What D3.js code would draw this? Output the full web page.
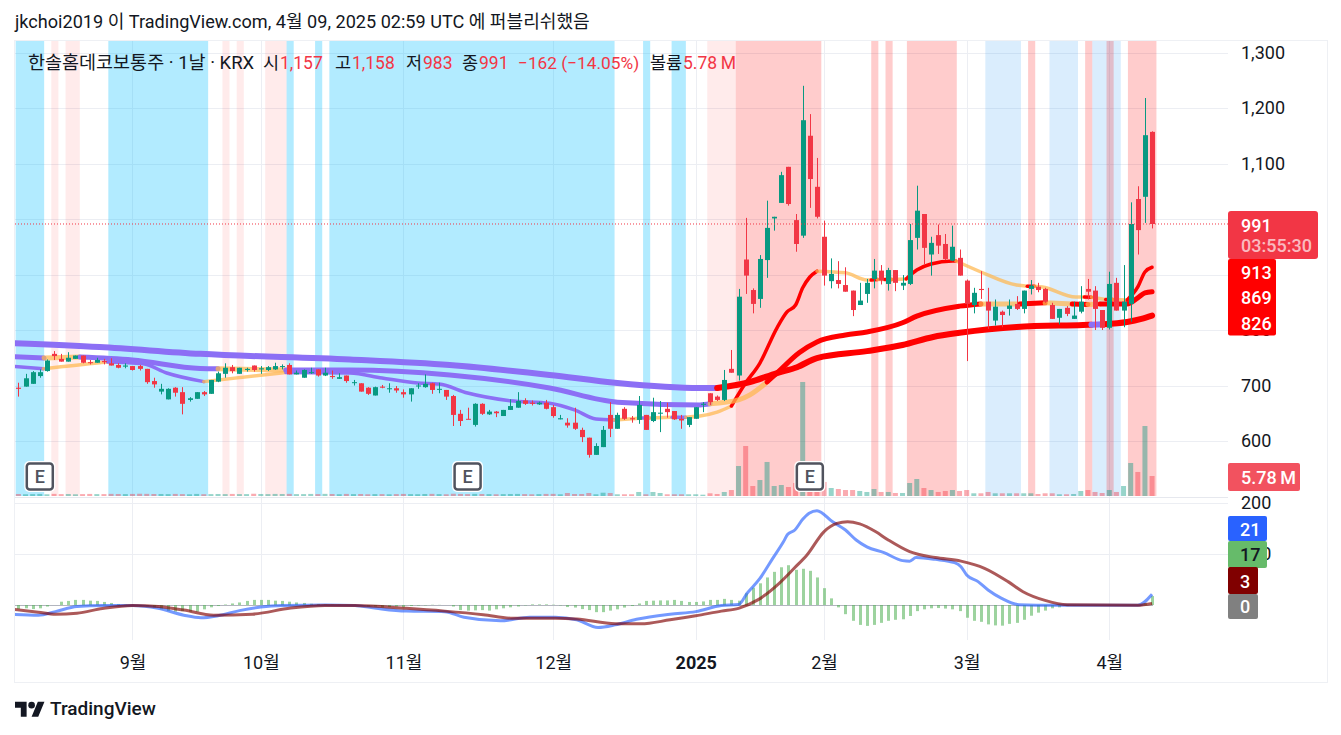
<!DOCTYPE html>
<html lang="ko">
<head>
<meta charset="utf-8">
<script src="https://cdn.jsdelivr.net/npm/d3@7"></script>
<style>
html,body{margin:0;padding:0;background:#fff;overflow:hidden}
svg{display:block}
text{font-family:Roboto,"Noto Sans CJK KR",sans-serif}
</style>
</head>
<body>
<svg id="chart" width="1341" height="735"></svg>
<script>
// ---------- DATA ----------
const opens=[696,698,703,717,726,757,748,743,748,754,
742,741,744,740,737,734,735,735,730,708,
689,675,696,688,674,676,688,685,707,721,
733,721,728,736,729,728,729,734,737,720,
714,723,729,718,717,712,718,705,704,696,
682,698,694,695,688,684,699,697,704,693,
692,681,649,640,629,667,648,653,645,656,
660,673,669,666,669,661,639,633,633,620,
606,575,589,647,622,658,641,638,647,636,
650,658,654,640,629,640,666,686,680,674,
730,718,927,872,856,926,1001,1029,1094,998,
970,1150,1058,968,888,890,881,871,845,865,
892,907,883,908,880,883,966,1009,936,971,
955,925,930,889,845,874,851,817,833,838,
847,838,874,878,874,845,822,840,820,833,
874,871,836,804,885,835,847,1036,1040,1157];
const closes=[694,713,724,724,745,753,743,750,754,741,
741,746,742,736,732,736,728,730,706,702,
694,694,687,667,677,688,684,710,722,732,
726,732,730,728,731,733,735,735,720,723,
728,724,718,723,716,715,708,706,689,685,
697,696,695,691,684,695,700,703,692,694,
680,647,636,639,667,649,653,650,656,663,
672,667,667,669,658,645,641,628,622,607,
575,591,620,622,647,640,639,665,620,652,
651,652,639,637,643,661,667,670,674,710,
723,860,898,847,928,984,1004,1079,1027,955,
1178,1072,1004,898,901,883,869,836,853,885,
907,889,908,885,885,962,1015,948,957,952,
928,950,898,847,867,872,835,842,827,844,
838,871,880,872,851,820,838,829,826,851,
869,838,804,883,835,851,991,980,1151,991];
const highs=[705,721,726,729,747,762,757,760,754,754,
746,750,748,749,740,740,735,737,730,714,
703,695,697,697,679,688,690,710,725,740,
737,732,732,736,735,735,741,738,740,727,
729,732,729,732,727,722,718,710,704,697,
698,701,704,699,693,695,704,720,705,705,
692,683,656,660,668,668,656,654,656,675,
688,677,673,671,674,665,647,641,660,624,
606,596,627,670,651,661,645,681,647,678,
672,669,654,647,643,661,670,686,682,728,
764,874,1002,875,935,1033,1004,1085,1094,1009,
1240,1189,1110,997,929,924,913,871,885,892,
928,917,912,908,899,991,1060,1009,968,990,
973,988,945,891,876,906,876,855,835,855,
861,871,890,885,876,849,838,843,851,879,
892,879,836,905,894,917,1030,1059,1218,1158];
const lows=[680,698,703,714,725,746,743,743,748,740,
738,741,738,736,731,731,727,727,703,696,
684,675,680,648,671,676,681,685,706,714,
722,721,725,725,721,726,728,729,720,720,
714,721,716,717,712,712,705,700,689,683,
682,695,687,687,678,671,694,696,685,686,
674,627,627,639,626,647,647,643,645,656,
660,665,664,665,657,642,639,624,620,598,
570,575,589,607,622,638,633,631,620,634,
616,642,638,622,625,640,652,665,672,672,
723,709,865,830,840,894,979,1029,1024,941,
966,1020,1001,880,875,875,869,825,845,849,
875,882,871,870,872,881,945,918,898,937,
926,924,898,744,830,856,802,808,805,826,
836,830,864,868,849,820,810,825,820,830,
855,800,800,801,835,805,815,936,993,983];
const volumes=[.58,.5,.55,.6,.5,.62,.55,.58,.5,.55,
.6,.55,.55,.62,.58,.55,.6,.65,.62,.58,
.58,.55,.6,.55,.5,.6,.52,.55,.58,.55,
.6,.55,.55,.65,.58,.55,.6,.58,.62,.55,
.55,.6,.55,.62,.58,.52,.6,.55,.58,.5,
.55,.55,.5,.55,.6,.55,.52,.58,.62,.55,
.5,.65,.6,.55,.62,.58,.55,.5,.55,.58,
.6,.55,.5,.55,.6,.62,
.5,.87,.58,.58,.87,.5,.95,.87,.5,.5,.5,1.16,.5,1.16,.87,.5,.5,.5,.5,.5,
.38,.78,.58,1.16,1.73,8.67,14.45,2.89,4.62,9.83,2.89,3.18,2.6,3.76,32.95,4.34,1.73,4.05,2.31,2.02,1.73,1.73,1.45,1.16,2.02,1.16,1.16,.87,.87,3.76,4.91,2.31,1.73,1.16,1.45,1.73,
1.45,1.73,.78,.78,1.16,.78,.78,.78,.78,.78,.78,.58,.78,.78,.5,.5,.58,1.45,1.73,1.16,.87,1.73,1.16,2.89,9.54,6.94,20.23,5.78];
const macdHist=[-8,-6.5,-8,-6.5,-3,0,6.5,8,10,10,
8.5,8,6,4,2,.7,0,-1,-2.5,-5,
-8.5,-12,-13,-12,-13,-13,-8.5,-4.5,-2,1,
3,5,8,10,10,10,8.5,8,6.5,5,
4,2.5,2,.7,.7,.5,.3,0,-.7,-3,
-3,-5,-4,-3,-4.5,-2,-1,-.7,.5,.3,
0,-3,-10,-11,-10.5,-10,-11,-8.5,-6.5,-4.5,
-3,-.7,1.3,1.3,1.3,.7,-.7,-4,-5,-8,
-10,-14,-14,-11,-8.5,-5,-2,3,8,8.5,
9,9,10,8,6,6,7,10,10,12,
10,8.5,23,34,42.5,54,65,74,78,69,
71,67,54,33,13,-4.6,-18,-31,-39,-41,
-39,-35,-31,-29,-28,-21.5,-12,-8.5,-6.5,-6,
-7,-8.5,-12,-25,-31,-33,-38,-40,-40.5,-37,
-35,-29,-21,-15,-11,-6.5,-4.6,-2,-.7,-.5,
-.4,-.3,-.3,-.2,-.2,-.1,0,0,3,17.6];
const macdIdx=[-1,2.8,5.2,8.2,11.8,16,19.6,23.2,25.6,28,31,34,37,43,47.2,50.2,54.4,59.8,62.5,67.6,71.7,75.3,78.3,81.3,83.7,86.7,91.4,95,98.6,101,102.2,104,105.8,107.3,107.9,108.9,110,110.9,112,114.2,116,117.5,119,121.4,124,125,125.9,128.6,131.3,132.2,133,134.6,136,137.9,140.3,145.3,157,159];
const macdLine=[-18,-20,-13,-3,-1,-1,-6.5,-20,-25,-21,-11,-4,-1,0,-1,-6.5,-12,-13,-24,-31,-24,-24,-29,-44,-39,-28,-18,-13,-1,1,23,52,91.5,124,138.6,147,168,180,185,163,147,127.5,114,102.6,87,86,93,89.5,83,75,59,45.8,29.4,13,.7,-.5,-.5,21];
const signalIdx=[-1,2.8,5.2,8.2,11.8,16,19.6,23.2,27.4,32.8,38.2,43,47.2,54.4,59.8,65.2,69.4,75.3,78.3,83.7,87.3,91.4,95,98.6,101,103.7,106.7,108.8,110.6,113,114.8,116.3,118,120.2,122,125,128.6,132.2,135.5,138.8,140.9,144.1,147.1,157,159];
const signalLine=[-8,-14,-18,-16,-7,-1,-3,-10,-20,-18,-6,-1,-1,-6.5,-12,-19,-26,-26,-27.5,-36.6,-37,-29,-21,-12,-6.5,10,42.5,72,98,144,160,163.4,159,144,127.5,104.6,93,86,72,45.8,26,8.5,.7,-.5,3];
// moving averages: [state, [[bar index, price], ...]]
const slowMA=[
 ["bear",[[-1,776.6],[11.4,769.4],[25.5,757],[46.5,747],[60.5,737],[74.5,719],[84,704.5],[95.6,695.5],[98,695.5]]],
 ["bull",[[98,695.5],[102.6,706.3],[106.4,722.5],[109.2,733],[112,749.5],[119,762],[124,773],[128.3,787.5],[132,795],[140,805.5],[149.3,809],[150.5,809.5]]],
 ["bear",[[150.5,809.5],[152.2,810.5]]],
 ["bull",[[152.2,810.5],[155.5,814.5],[157.5,820],[159,826]]]
];
const midMA=[
 ["bear",[[-1,752],[3.6,749.5]]],
 ["neutral",[[3.6,749.5],[8.6,751.4]]],
 ["bear",[[8.6,751.4],[16,746],[25.5,730.6],[28,730]]],
 ["neutral",[[28,730],[37.5,728]]],
 ["bear",[[37.5,728],[46.5,728],[60.5,719],[74.5,695.5],[84,670],[95.6,665],[97,667]]],
 ["neutral",[[97,667],[101,674],[102.6,683],[105,706.3]]],
 ["bull",[[105,706.3],[106.4,722.5],[109.5,759],[112,778.5],[116,791],[119,796.5],[124,813],[126,825],[132,843],[135,847]]],
 ["neutral",[[135,847],[140.5,847]]],
 ["bull",[[140.5,847],[144,849]]],
 ["neutral",[[144,849],[147.8,847]]],
 ["bull",[[147.8,847],[150,846]]],
 ["neutral",[[150,846],[151.7,847]]],
 ["bull",[[151.7,847],[155.5,847],[157,858],[158,867],[159,869]]]
];
const fastMA=[
 ["bear",[[-1,735],[3.5,730]]],
 ["neutral",[[3.5,730],[11.4,741],[12.5,742.3]]],
 ["bear",[[12.5,742.3],[17.5,739],[20.8,722.5],[26,707]]],
 ["neutral",[[26,707],[37.5,723.4]]],
 ["bear",[[37.5,723.4],[46.5,722.5],[51,713.5],[56,704.5],[59,702.7],[63,686.5],[69,672.6],[74.5,668],[78,656],[81,639.7],[83.6,638]]],
 ["neutral",[[83.6,638],[87.6,641.5]]],
 ["bear",[[87.6,641.5],[88.5,641.5]]],
 ["neutral",[[88.5,641.5],[91.7,643]]],
 ["bear",[[91.7,643],[93.6,643]]],
 ["neutral",[[93.6,643],[95.6,645],[98,652],[100,663]]],
 ["bull",[[100,663],[101.8,701],[104,740.5],[106.4,804],[107.8,832.5],[109,845],[110,876],[111,895.5],[112,906]]],
 ["neutral",[[112,906],[116,903],[119,890],[119.6,890]]],
 ["bull",[[119.6,890],[120.5,891]]],
 ["neutral",[[120.5,891],[121.5,891]]],
 ["bull",[[121.5,891],[122.5,891]]],
 ["neutral",[[122.5,891],[124.5,892]]],
 ["bull",[[124.5,892],[126,908],[128,919],[131,924.3],[131.5,924.3]]],
 ["neutral",[[131.5,924.3],[135,904.5],[140,881],[141.5,879]]],
 ["bull",[[141.5,879],[142.5,879]]],
 ["neutral",[[142.5,879],[143.6,877.5],[148.3,859.5],[149.5,859.5]]],
 ["bull",[[149.5,859.5],[150.5,859]]],
 ["neutral",[[150.5,859],[152.5,855]]],
 ["bull",[[152.5,855],[153.5,855]]],
 ["neutral",[[153.5,855],[155.5,854]]],
 ["bull",[[155.5,854],[157,877.5],[158,904.5],[159,913]]]
];
const cyanBands=[[0,3],[13,26],[38,38],[42,42],[44,83],[88,88],[92,93]];
const paleRedBands=[[5,5],[7,8],[29,29],[31,31],[35,37],[97,100]];
const redBands=[[101,112],[120,120],[122,122],[125,131],[142,142],[150,150],[153,153],[156,159]];
const paleBlueBands=[[136,140],[145,148],[151,154]];
const priceTicks=[600,700,800,900,1000,1100,1200,1300];
const macdTicks=[0,100,200];
const timeTicks=[16,34,54,75,95,113,133,153];
const timeLabels=["9월","10월","11월","12월","2025","2월","3월","4월"];
const earnings=[3,63,111];
const title="jkchoi2019 이 TradingView.com, 4월 09, 2025 02:59 UTC 에 퍼블리쉬했음";
const legendTexts=[["한솔홈데코보통주 · 1날 · KRX",0],["시",0],["1,157",1],["고",0],["1,158",1],["저",0],["983",1],["종",0],["991",1],["−162 (−14.05%)",1],["볼륨",0],["5.78\u2009M",1]];
const lastLabels=[["913",913],["869",869],["826",826]];

// ---------- SCALES ----------
const L=15,R=1327,T=41,PB=496,PR=1228,F=682;
const up="#089981",down="#f23645";
const x=d3.scaleLinear().domain([0,159]).range([18.4,1152.07]);
const y=d3.scaleLinear().domain([600,1300]).range([441,52.5]);
const yv=d3.scaleLinear().domain([0,5.78]).range([496,476]);
const ym=d3.scaleLinear().domain([0,200]).range([605,503]);
const step=x(1)-x(0);
const maStyle={bear:"#8c6ff5",neutral:"rgba(255,183,77,.72)",bull:"#ff0000"};
const FS=18;

const svg=d3.select("#chart");
const defs=svg.append("defs");
defs.append("clipPath").attr("id","main").append("rect").attr("x",L).attr("y",T).attr("width",PR-L).attr("height",PB-T);
defs.append("clipPath").attr("id","sub").append("rect").attr("x",L).attr("y",498).attr("width",PR-L).attr("height",142);

// frame
svg.append("rect").attr("x",L-.5).attr("y",T-.5).attr("width",R-L+1).attr("height",F-T+1).attr("fill","#fff").attr("stroke","#eef0f4");

// grid (below the translucent bands)
const grid=svg.append("g").attr("stroke","#eceef3");
grid.selectAll(".h").data(priceTicks).join("line").attr("x1",L).attr("x2",PR).attr("y1",d=>Math.round(y(d))+.5).attr("y2",d=>Math.round(y(d))+.5);
grid.selectAll(".m").data([100,200]).join("line").attr("x1",L).attr("x2",PR).attr("y1",d=>Math.round(ym(d))+.5).attr("y2",d=>Math.round(ym(d))+.5);
grid.selectAll(".v").data(timeTicks).join("line").attr("x1",d=>Math.round(x(d))+.5).attr("x2",d=>Math.round(x(d))+.5).attr("y1",T).attr("y2",640);
svg.append("line").attr("x1",L).attr("x2",PR+0).attr("y1",497.5).attr("y2",497.5).attr("stroke","#e6e8ee");
svg.append("line").attr("x1",L).attr("x2",1153).attr("y1",605.5).attr("y2",605.5).attr("stroke","#b2b5be");

// bands
function bands(list,color){
  svg.append("g").attr("clip-path","url(#main)").selectAll("rect").data(list).join("rect")
   .attr("x",d=>x(d[0])-step/2+.8).attr("width",d=>x(d[1])-x(d[0])+step)
   .attr("y",T).attr("height",PB-T).attr("fill",color);
}
bands(cyanBands,"rgba(0,188,255,.3)");
bands(paleRedBands,"rgba(255,0,0,.08)");
bands(paleBlueBands,"rgba(33,150,243,.17)");
bands(redBands,"rgba(255,0,0,.2)");

// volume
svg.append("g").selectAll("rect").data(volumes).join("rect")
 .attr("x",(d,i)=>x(i)-2.5).attr("width",5)
 .attr("y",d=>yv(d)).attr("height",d=>PB-yv(d))
 .attr("fill",(d,i)=>closes[i]>=opens[i]?"rgba(8,153,129,.42)":"rgba(242,54,69,.42)");

// moving averages
const line=d3.line().x(d=>x(d[0])).y(d=>y(d[1])).curve(d3.curveMonotoneX);
function ma(segs,w){
  svg.append("g").attr("clip-path","url(#main)").attr("fill","none").attr("stroke-linecap","round").attr("stroke-linejoin","round")
   .selectAll("path").data(segs).join("path").attr("d",d=>line(d[1])).attr("stroke",d=>maStyle[d[0]]).attr("stroke-width",w);
}
ma(fastMA,3.5);ma(midMA,5);ma(slowMA,6);

// candles
const idx=d3.range(opens.length);
const c=svg.append("g");
c.selectAll(".w").data(idx).join("line")
 .attr("x1",i=>Math.round(x(i))+.5).attr("x2",i=>Math.round(x(i))+.5)
 .attr("y1",i=>y(highs[i])).attr("y2",i=>y(lows[i]))
 .attr("stroke",i=>closes[i]>=opens[i]?up:down);
c.selectAll(".b").data(idx).join("rect")
 .attr("x",i=>Math.round(x(i))-2).attr("width",5)
 .attr("y",i=>y(Math.max(opens[i],closes[i])))
 .attr("height",i=>Math.max(1,Math.abs(y(opens[i])-y(closes[i]))))
 .attr("fill",i=>closes[i]>=opens[i]?up:down);

// last price line
svg.append("line").attr("x1",L).attr("x2",PR).attr("y1",y(991)).attr("y2",y(991)).attr("stroke",down).attr("stroke-dasharray","1 2");

// earnings badges
const e=svg.append("g").selectAll("g").data(earnings).join("g").attr("transform",d=>`translate(${x(d)-.0},476.5)`);
e.append("rect").attr("x",-15.5).attr("y",-15.5).attr("width",31).attr("height",31).attr("rx",5).attr("fill","#fff");
e.append("rect").attr("x",-13).attr("y",-13).attr("width",26).attr("height",26).attr("rx",3).attr("fill","#fff").attr("stroke","#50535e").attr("stroke-width",2.5);
e.append("text").attr("text-anchor","middle").attr("y",6.5).attr("font-size",18).attr("font-weight",500).attr("fill","#50535e").text("E");

// MACD
svg.append("g").selectAll("rect").data(macdHist).join("rect")
 .attr("x",(d,i)=>Math.round(x(i))-1).attr("width",3)
 .attr("y",d=>Math.min(ym(d),ym(0))).attr("height",d=>Math.abs(ym(d)-ym(0)))
 .attr("fill","rgba(76,175,80,.55)");
const mline=d3.line().x(d=>x(d[0])).y(d=>ym(d[1])).curve(d3.curveMonotoneX);
const g2=svg.append("g").attr("clip-path","url(#sub)").attr("fill","none").attr("stroke-width",3).attr("stroke-linejoin","round");
g2.append("path").attr("d",mline(d3.zip(macdIdx,macdLine))).attr("stroke","rgba(41,98,255,.65)");
g2.append("path").attr("d",mline(d3.zip(signalIdx,signalLine))).attr("stroke","rgba(128,0,0,.65)");

// axes
const axP=d3.axisRight(y).tickValues(priceTicks).tickSize(0).tickPadding(0).tickFormat(d3.format(","));
const gp=svg.append("g").attr("transform","translate(1241,0)").call(axP);
gp.select(".domain").remove();
gp.selectAll("text").attr("text-anchor","start").attr("font-size",FS).attr("fill","#131722").attr("font-family","Roboto");
const axM=d3.axisRight(ym).tickValues(macdTicks.slice(1)).tickSize(0).tickPadding(0);
const gm=svg.append("g").attr("transform","translate(1241,0)").call(axM);
gm.select(".domain").remove();
gm.selectAll("text").attr("text-anchor","start").attr("font-size",FS).attr("fill","#131722").attr("font-family","Roboto");
const axT=d3.axisBottom(x).tickValues(timeTicks).tickSize(0).tickPadding(0).tickFormat((d,i)=>timeLabels[i]);
const gt=svg.append("g").attr("transform","translate(0,656)").call(axT);
gt.select(".domain").remove();
gt.selectAll("text").attr("font-size",FS).attr("fill","#131722").attr("font-family",'Roboto,"Noto Sans CJK KR"').attr("font-weight",(d,i)=>timeLabels[i]==="2025"?700:400);

// right labels
function lab(x0,y0,w,h,fill,rx){svg.append("rect").attr("x",x0).attr("y",y0).attr("width",w).attr("height",h).attr("rx",rx||0).attr("fill",fill);}
function txt(px,py,s,fill,size,weight,anchor){return svg.append("text").attr("x",px).attr("y",py).text(s).attr("fill",fill).attr("font-size",size).attr("font-weight",weight||400).attr("text-anchor",anchor||"start");}
lab(1228,211,90,48,down,3);
txt(1241,231.5,"991","#fff",FS,500);
txt(1241,252,"03:55:30","rgba(255,255,255,.68)",FS,500);
lab(1228,259,48,76.5,"#ff0000",2);
lastLabels.forEach((d,i)=>txt(1241,[278.5,303.5,329.5][i],d[0],"#fff",FS,500));
lab(1228,463,72,28,"#f2525f",2);
txt(1241,483.5,"5.78\u2009M","#fff",FS,500);
lab(1228,516,39,25,"#2962ff",2);
txt(1240,535.5,"21","#fff",FS,500);
lab(1228,541,39,27,"#66bb6a",2);
txt(1240,560.5,"17","#131722",FS,500);
lab(1228,567,30,27,"#800000",2);
txt(1240,587.5,"3","#fff",FS,500);
lab(1228,594,30,25,"#808080",2);
txt(1240,612.5,"0","#fff",FS,500);

// title and legend
txt(15,28,title,"#131722",18.1);
const legendX=[28,263,280,335,352,406,423,462,479,518,650,683];
const legendSize=[18.5,17.5,17.5,17.5,17.5,17.5,17.5,17.5,17.5,17.3,17.5,17.5];
legendTexts.forEach((d,i)=>txt(legendX[i],69,d[0],d[1]?down:"#131722",legendSize[i]));

// footer
const logo=svg.append("g").attr("transform","translate(15,698.5) scale(.83)").attr("fill","#131722");
logo.append("path").attr("d","M14 22H7V11H0V4h14v18zM28 22h-8l7.5-18h8L28 22z");
logo.append("circle").attr("cx",20).attr("cy",8).attr("r",4);
txt(50,715,"TradingView","#131722",19,500);
</script>
</body>
</html>
